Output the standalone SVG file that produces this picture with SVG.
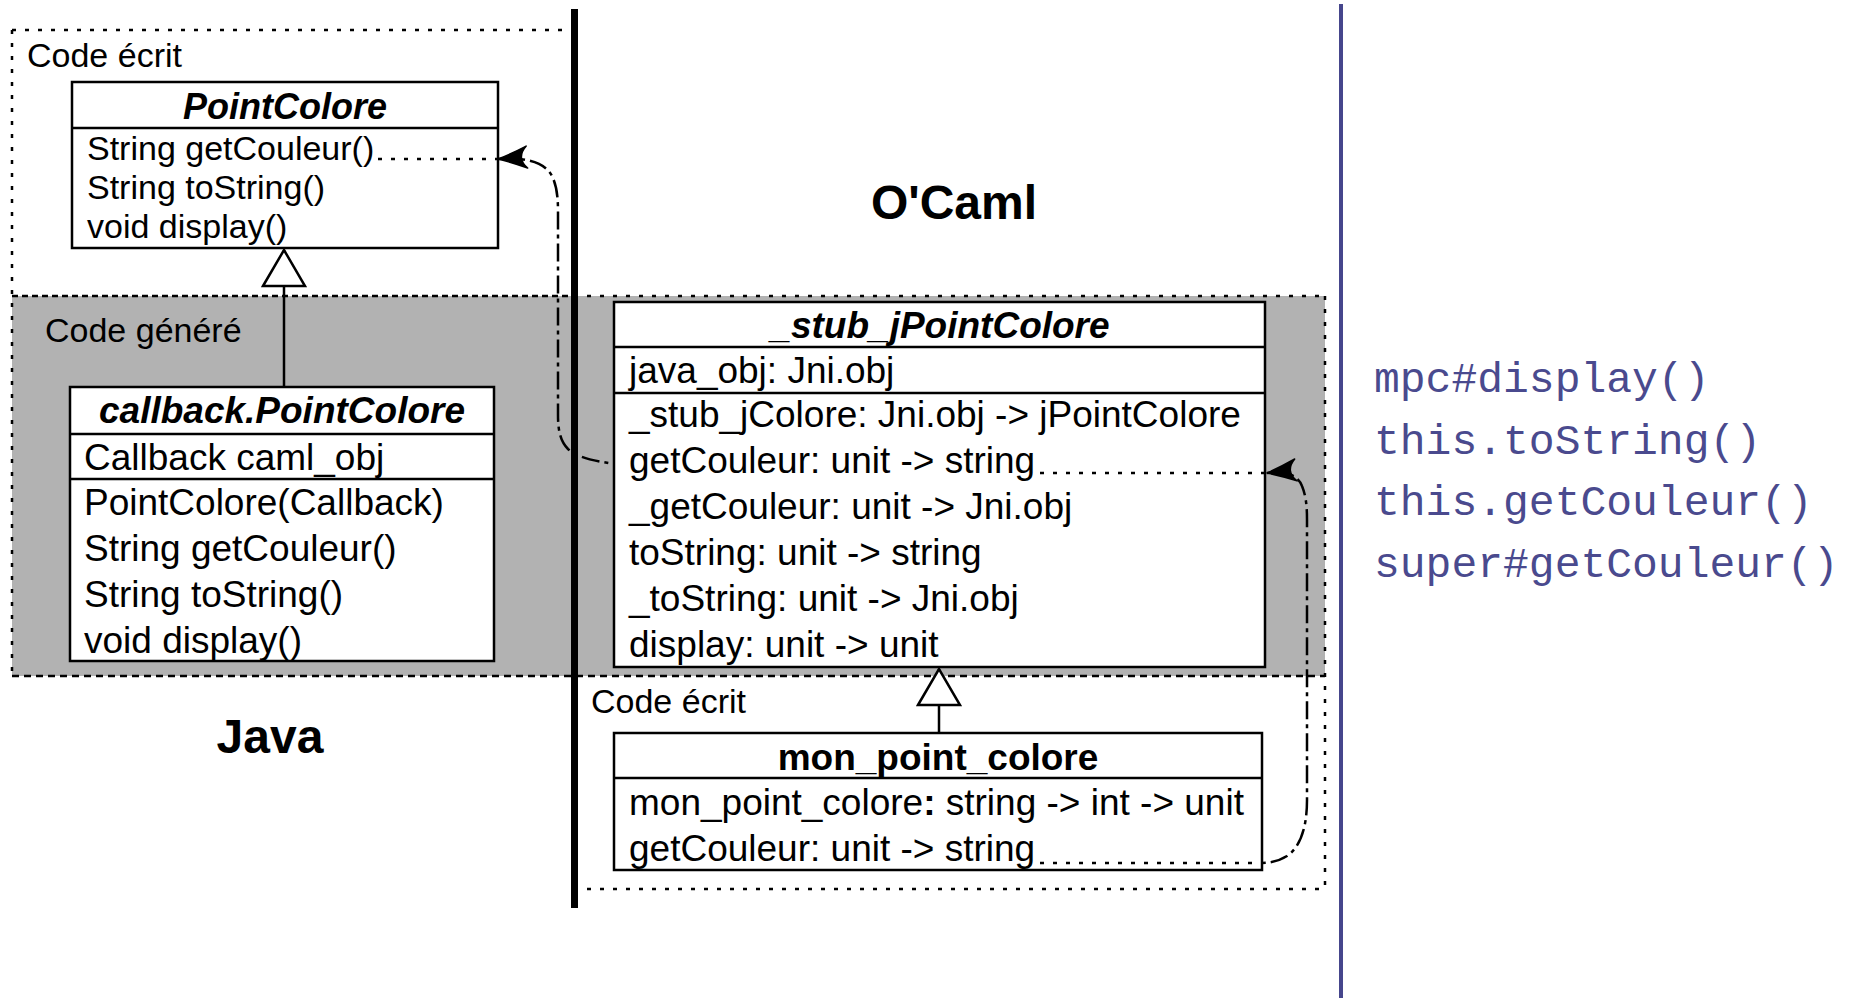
<svg xmlns="http://www.w3.org/2000/svg" width="1854" height="998" viewBox="0 0 1854 998">
<defs>
<style>
.box{fill:#fff;stroke:#000;stroke-width:2.5}
.sep{stroke:#000;stroke-width:2.5;fill:none}
.t{font-family:"Liberation Sans",Arial,Helvetica,sans-serif;font-size:37px;fill:#000}
.s34{font-size:34px}
.ttl{font-weight:bold;font-style:italic;text-anchor:middle}
.bold{font-weight:bold}
.big{font-weight:bold;font-size:48px;text-anchor:middle}
.code{font-family:"Liberation Mono","Courier New",monospace;font-size:43px;fill:#4a4a8e}
.dot{fill:none;stroke:#000;stroke-width:2.5;stroke-dasharray:4 9}
.dense{fill:none;stroke:#000;stroke-width:2.5;stroke-dasharray:6 4}
.dash{fill:none;stroke:#000;stroke-width:2.5;stroke-dasharray:7 5}
.dd{fill:none;stroke:#000;stroke-width:2.5;stroke-dasharray:18 5 4 5}
.inh{fill:none;stroke:#000;stroke-width:2.5}
</style>
<marker id="arr" viewBox="0 0 32 24" refX="31" refY="12" markerWidth="32" markerHeight="24" markerUnits="userSpaceOnUse" orient="auto-start-reverse">
<path d="M2,1 Q18,8 31,12 Q18,16 2,23 Q13,12 2,1 Z" fill="#000" stroke="#000" stroke-width="1.5" stroke-linejoin="round"/>
</marker>
<marker id="tri" viewBox="0 0 40 46" refX="38" refY="23" markerWidth="40" markerHeight="46" markerUnits="userSpaceOnUse" orient="auto">
<path d="M2,2 L38,23 L2,44 Z" fill="#fff" stroke="#000" stroke-width="2.5"/>
</marker>
</defs>
<rect width="1854" height="998" fill="#fff"/>

<g id="regions">
<rect x="12" y="296" width="1313" height="380" fill="#b2b2b2"/>
<path class="dot" d="M12,30 H574"/>
<path class="dot" d="M12,30 V676"/>
<path class="dense" d="M12,296 H574"/>
<path class="dot" d="M574,296 H1325"/>
<path class="dot" d="M1325,296 V889"/>
<path class="dash" d="M12,676 H1325"/>
<path class="dot" d="M574,889 H1325"/>
</g>

<g id="labels">
<text class="t s34" x="27" y="67">Code écrit</text>
<text class="t s34" x="45" y="342">Code généré</text>
<text class="t s34" x="591" y="713">Code écrit</text>
<text class="t big" x="270" y="753">Java</text>
<text class="t big" x="954" y="219">O'Caml</text>
</g>

<g id="node-PointColore">
<rect class="box" x="72" y="82" width="426" height="166"/>
<line class="sep" x1="72" y1="128" x2="498" y2="128"/>
<text class="t ttl" x="285" y="119" style="font-size:36px">PointColore</text>
<text class="t s34" x="87" y="160">String getCouleur()</text>
<text class="t s34" x="87" y="199">String toString()</text>
<text class="t s34" x="87" y="238">void display()</text>
</g>

<g id="node-callback-PointColore">
<rect class="box" x="70" y="387" width="424" height="274"/>
<line class="sep" x1="70" y1="434" x2="494" y2="434"/>
<line class="sep" x1="70" y1="479" x2="494" y2="479"/>
<text class="t ttl" x="282" y="423">callback.PointColore</text>
<text class="t" x="84" y="470">Callback caml_obj</text>
<text class="t" x="84" y="515">PointColore(Callback)</text>
<text class="t" x="84" y="561">String getCouleur()</text>
<text class="t" x="84" y="607">String toString()</text>
<text class="t" x="84" y="653">void display()</text>
</g>

<g id="node-stub-jPointColore">
<rect class="box" x="614" y="302" width="651" height="365"/>
<line class="sep" x1="614" y1="347" x2="1265" y2="347"/>
<line class="sep" x1="614" y1="393" x2="1265" y2="393"/>
<text class="t ttl" x="940" y="338">_stub_jPointColore</text>
<text class="t" x="629" y="383">java_obj: Jni.obj</text>
<text class="t" x="629" y="427">_stub_jColore: Jni.obj -&gt; jPointColore</text>
<text class="t" x="629" y="473">getCouleur: unit -&gt; string</text>
<text class="t" x="629" y="519">_getCouleur: unit -&gt; Jni.obj</text>
<text class="t" x="629" y="565">toString: unit -&gt; string</text>
<text class="t" x="629" y="611">_toString: unit -&gt; Jni.obj</text>
<text class="t" x="629" y="657">display: unit -&gt; unit</text>
</g>

<g id="node-mon-point-colore">
<rect class="box" x="614" y="733" width="648" height="137"/>
<line class="sep" x1="614" y1="778" x2="1262" y2="778"/>
<text class="t bold" x="938" y="770" text-anchor="middle">mon_point_colore</text>
<text class="t" x="629" y="815">mon_point_colore<tspan class="bold">:</tspan> string -&gt; int -&gt; unit</text>
<text class="t" x="629" y="861">getCouleur: unit -&gt; string</text>
</g>

<g id="code-calls">
<text class="code" x="1374" y="392">mpc#display()</text>
<text class="code" x="1374" y="454">this.toString()</text>
<text class="code" x="1374" y="515">this.getCouleur()</text>
<text class="code" x="1374" y="577">super#getCouleur()</text>
</g>

<g id="connectors">
<path class="inh" d="M284,387 V250" marker-end="url(#tri)"/>
<path class="inh" d="M939,733 V669" marker-end="url(#tri)"/>
<path class="dot" d="M378,159 H498"/>
<path class="dd" d="M498,159 C528,157 545,163 552,176 C557,186 558,198 558,212 L558,415 C558,432 561,442 568,449 C578,458 596,461 614,464" marker-start="url(#arr)"/>
<path class="dot" d="M1040,473 H1265"/>
<path class="dd" d="M1267,473 C1286,471 1298,475 1302,486 C1306,496 1307,506 1307,520 L1307,800 C1307,830 1299,848 1287,856 C1279,861 1270,863 1262,863" marker-start="url(#arr)"/>
<path class="dot" d="M1040,863 H1262"/>
</g>

<g id="dividers">
<line x1="574.5" y1="9" x2="574.5" y2="908" stroke="#000" stroke-width="7"/>
<line x1="1341" y1="4" x2="1341" y2="998" stroke="#46468c" stroke-width="4"/>
</g>
</svg>
